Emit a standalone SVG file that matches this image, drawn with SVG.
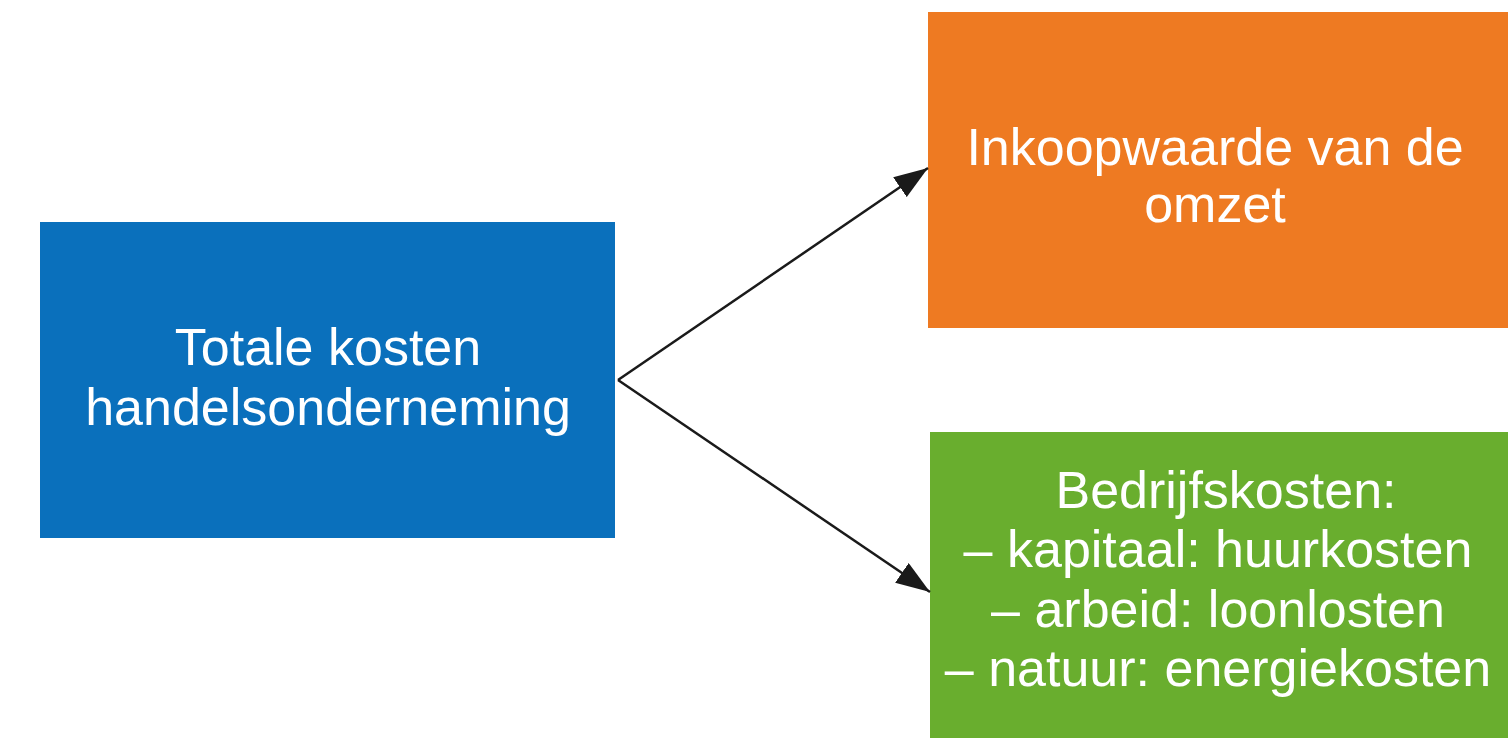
<svg xmlns="http://www.w3.org/2000/svg" width="1508" height="738" viewBox="0 0 1508 738">
<style>
.lbl{font-family:"Liberation Sans",Arial,sans-serif;font-size:52px;fill:#ffffff;text-anchor:middle}
.conn{stroke:#1a1a1a;stroke-width:2.5;fill:none}
</style>
<defs>
<marker id="arrow" viewBox="0 0 34 24" refX="34" refY="12" markerWidth="34" markerHeight="24" markerUnits="userSpaceOnUse" orient="auto">
<path d="M0,0 L34,12 L0,24 z" fill="#1a1a1a"/>
</marker>
</defs>
<rect width="1508" height="738" fill="#ffffff"/>
<g id="node-totaal">
<rect x="40" y="222" width="575" height="316" fill="#0A70BC"/>
<text class="lbl" x="328" y="365">Totale kosten</text>
<text class="lbl" x="328" y="425">handelsonderneming</text>
</g>
<g id="node-inkoop">
<rect x="928" y="12" width="580" height="316" fill="#EE7A22"/>
<text class="lbl" x="1215" y="165">Inkoopwaarde van de</text>
<text class="lbl" x="1215" y="222">omzet</text>
</g>
<g id="node-bedrijf">
<rect x="930" y="432" width="578" height="306" fill="#69AE2E"/>
<text class="lbl" x="1226" y="508">Bedrijfskosten:</text>
<text class="lbl" x="1218" y="567">– kapitaal: huurkosten</text>
<text class="lbl" x="1218" y="627">– arbeid: loonlosten</text>
<text class="lbl" x="1218" y="686">– natuur: energiekosten</text>
</g>
<g id="connectors">
<line class="conn" x1="618" y1="380" x2="928" y2="168" marker-end="url(#arrow)"/>
<line class="conn" x1="618" y1="380" x2="930" y2="592" marker-end="url(#arrow)"/>
</g>
</svg>
